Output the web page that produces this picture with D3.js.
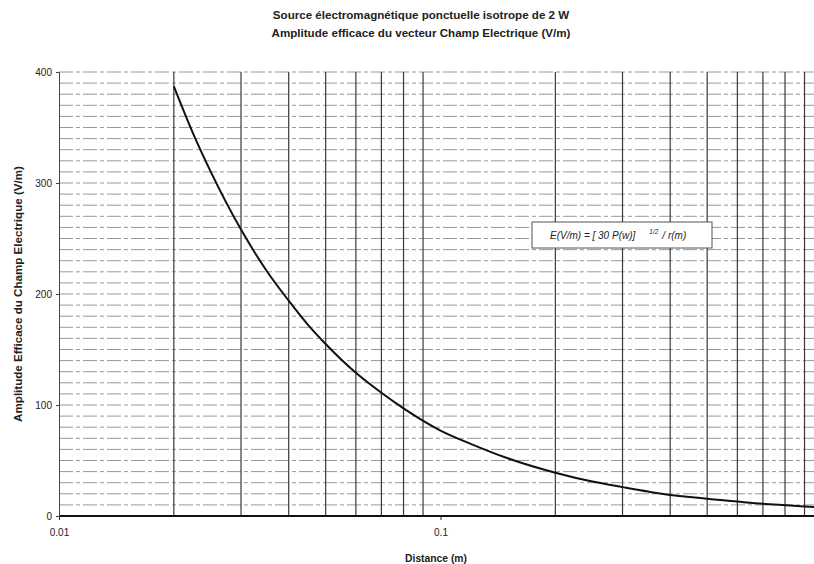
<!DOCTYPE html>
<html>
<head>
<meta charset="utf-8">
<script src="https://cdn.jsdelivr.net/npm/d3@7"></script>
<style>
  body { margin: 0; background: #fff; }
  text { font-family: Arial, "Liberation Sans", sans-serif; }
</style>
</head>
<body>
<div id="container"></div>
<script>
let w = 814;
let h = 564;

// values
let distances = [0.02, 0.0225, 0.025, 0.03, 0.035, 0.04, 0.045, 0.05, 0.06, 0.07, 0.08, 0.1, 0.12, 0.15, 0.2, 0.25, 0.3, 0.35, 0.4, 0.45, 0.5, 0.6, 0.7, 0.8, 0.9, 1.0];
let fieldValues = [387, 344, 310, 258, 221, 194, 172, 155, 129, 111, 97, 77, 65, 52, 39, 31, 26, 22, 19, 17.2, 15.5, 13, 11, 9.7, 8.6, 7.7];
let xTickValues = [0.01, 0.1];
let xGridValues = [0.02, 0.03, 0.04, 0.05, 0.06, 0.07, 0.08, 0.09, 0.2, 0.3, 0.4, 0.5, 0.6, 0.7, 0.8, 0.9];
let yTickValues = [0, 100, 200, 300, 400];
let yGridValues = d3.range(10, 401, 10);

let viz = d3.select("#container")
  .append("svg")
    .attr("width", w)
    .attr("height", h)
    .style("background-color", "white")
;

let xScale = d3.scaleLog().domain([0.01, 1]).range([59, 822]);
let yScale = d3.scaleLinear().domain([0, 400]).range([516, 72]);

// horizontal grid
viz.append("g").selectAll("line").data(yGridValues).enter()
  .append("line")
    .attr("x1", xScale(0.01))
    .attr("x2", w)
    .attr("y1", d => yScale(d))
    .attr("y2", d => yScale(d))
    .attr("stroke", "#999")
    .attr("stroke-width", 1)
    .attr("stroke-dasharray", "14,3,4,3")
;

// vertical grid
viz.append("g").selectAll("line").data(xGridValues).enter()
  .append("line")
    .attr("x1", d => xScale(d))
    .attr("x2", d => xScale(d))
    .attr("y1", yScale(400))
    .attr("y2", yScale(0))
    .attr("stroke", "#3a3a3a")
    .attr("stroke-width", 1.2)
;

// axes
let xAxis = d3.axisBottom(xScale).tickValues(xTickValues).tickSize(4).tickFormat(d3.format("~g"));
let yAxis = d3.axisLeft(yScale).tickValues(yTickValues).tickSize(3);

let xg = viz.append("g")
  .attr("transform", "translate(0," + yScale(0) + ")")
  .call(xAxis);
xg.select(".domain").attr("stroke", "#111").attr("stroke-width", 2).attr("d", "M" + xScale(0.01) + ",0H" + w);
xg.selectAll("text").attr("font-size", 10).attr("fill", "#222").attr("dy", "1.3em");
xg.selectAll(".tick line").attr("stroke", "#222");

let yg = viz.append("g")
  .attr("transform", "translate(" + xScale(0.01) + ",0)")
  .call(yAxis);
yg.select(".domain").attr("stroke", "#444").attr("stroke-width", 1);
yg.selectAll("text").attr("font-size", 10).attr("fill", "#222").attr("x", -7);
yg.selectAll(".tick line").attr("stroke", "#444");

// curve
let line = d3.line()
  .x((d, i) => xScale(distances[i]))
  .y(d => yScale(d))
  .curve(d3.curveMonotoneX);

viz.append("path")
  .datum(fieldValues)
  .attr("d", line)
  .attr("fill", "none")
  .attr("stroke", "#111")
  .attr("stroke-width", 2)
;

// titles
viz.append("text")
  .text("Source électromagnétique ponctuelle isotrope de 2 W")
  .attr("x", 421).attr("y", 19)
  .attr("text-anchor", "middle")
  .attr("font-size", 11.6).attr("font-weight", "bold").attr("fill", "#222");
viz.append("text")
  .text("Amplitude efficace du vecteur Champ Electrique (V/m)")
  .attr("x", 421).attr("y", 37)
  .attr("text-anchor", "middle")
  .attr("font-size", 11.6).attr("font-weight", "bold").attr("fill", "#222");

viz.append("text")
  .text("Distance (m)")
  .attr("x", 436).attr("y", 562)
  .attr("text-anchor", "middle")
  .attr("font-size", 10.3).attr("font-weight", "bold").attr("fill", "#222");

viz.append("text")
  .text("Amplitude Efficace du Champ Electrique (V/m)")
  .attr("transform", "translate(22,294) rotate(-90)")
  .attr("text-anchor", "middle")
  .attr("font-size", 11.6).attr("font-weight", "bold").attr("fill", "#222");

// formula box
let box = viz.append("g").attr("transform", "translate(532,222)");
box.append("rect")
  .attr("width", 180).attr("height", 26)
  .attr("fill", "white")
  .attr("stroke", "#555").attr("stroke-width", 1);
let formula = box.append("text")
  .attr("x", 18).attr("y", 17)
  .attr("font-size", 10).attr("font-style", "italic").attr("fill", "#222");
formula.append("tspan").text("E(V/m) = [   30 P(w)]");
formula.append("tspan").text("1/2").attr("font-size", 6.5).attr("dx", 14).attr("dy", -5);
formula.append("tspan").text("/ r(m)").attr("dx", 4).attr("dy", 5);
</script>
</body>
</html>
